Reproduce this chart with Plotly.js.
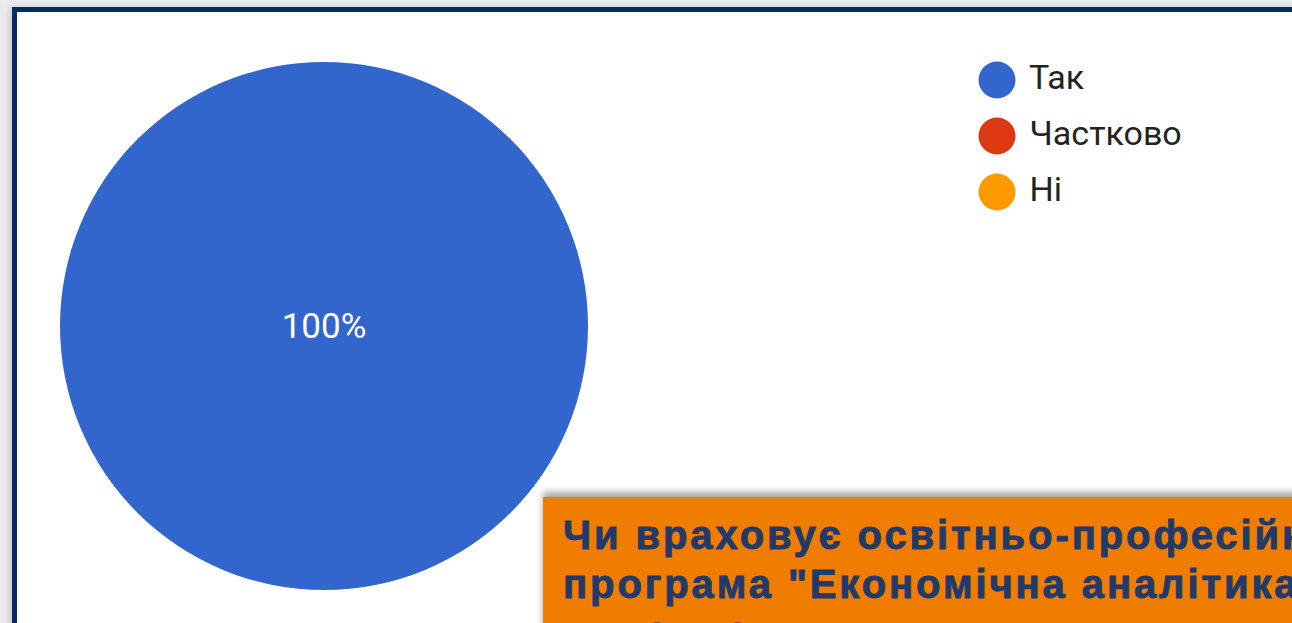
<!DOCTYPE html>
<html>
<head>
<meta charset="utf-8">
<script src="https://cdn.plot.ly/plotly-3.0.1.min.js"></script>
<style>
  html, body { margin:0; padding:0; width:1292px; height:623px; overflow:hidden; background:#ebebeb; }
  #frame { position:absolute; left:12px; top:7px; width:1300px; height:700px; border:5px solid #07296a; background:#ffffff; box-shadow:-3px 0 6px rgba(0,0,0,0.12); }
  #chart { position:absolute; left:0; top:0; width:1292px; height:623px; }
  #box { position:absolute; left:543px; top:497px; width:800px; height:200px; background:#f07d00; box-shadow:0 -5px 7px rgba(0,0,0,0.35); }
  #box p { margin:0; position:absolute; left:20px; top:14px; font-family:"Liberation Sans", Arial, sans-serif; font-weight:bold; font-size:40px; line-height:49px; letter-spacing:2.9px; -webkit-text-stroke:0.9px #213a6b; color:#213a6b; white-space:nowrap; }
  #box p span { display:block; position:relative; top:6px; }
</style>
</head>
<body>
<div id="frame"></div>
<div id="chart"></div>
<div id="box"><p>Чи враховує освітньо-професійна<br>програма "Економічна аналітика"<span>ваші очікування?</span></p></div>
<script>
const categories = ["Так", "Частково", "Ні"];
const values = [100, 0, 0];
const colors = ["#3366cc", "#dc3912", "#ff9900"];

const W = 1292, H = 623;
const pie = {
  type: "pie",
  labels: categories,
  values: values,
  marker: { colors: colors, line: { width: 0 } },
  sort: false,
  direction: "clockwise",
  textinfo: "percent",
  textposition: "inside",
  insidetextfont: { family: "Roboto, Arial, sans-serif", size: 35, color: "#ffffff" },
  showlegend: false,
  hoverinfo: "none",
  domain: { x: [60 / W, 588 / W], y: [(H - 590) / H, (H - 62) / H] }
};

const legendTrace = {
  type: "scatter",
  mode: "markers+text",
  x: categories.map(() => 0),
  y: categories,
  text: categories,
  texttemplate: " %{text}",
  textposition: "middle right",
  textfont: { family: "Roboto, Arial, sans-serif", size: 34, color: "#222222" },
  marker: { size: 37, color: colors, symbol: "circle", line: { width: 0 } },
  cliponaxis: false,
  showlegend: false,
  hoverinfo: "none",
  xaxis: "x",
  yaxis: "y"
};

const layout = {
  width: W, height: H,
  margin: { l: 0, r: 0, t: 0, b: 0 },
  paper_bgcolor: "rgba(0,0,0,0)",
  plot_bgcolor: "rgba(0,0,0,0)",
  showlegend: false,
  xaxis: { domain: [997 / W, 1], range: [0, 1], visible: false, fixedrange: true },
  yaxis: { domain: [(H - 220) / H, (H - 52) / H], type: "category", range: [2.5, -0.5], visible: false, fixedrange: true }
};

Plotly.newPlot("chart", [pie, legendTrace], layout, { staticPlot: true, displayModeBar: false });
</script>
</body>
</html>
